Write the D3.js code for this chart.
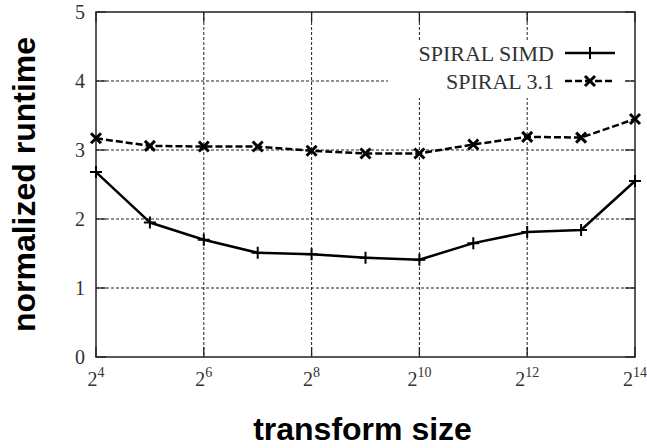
<!DOCTYPE html>
<html>
<head>
<meta charset="utf-8">
<script src="https://cdn.jsdelivr.net/npm/d3@7"></script>
<style>
  html, body { margin: 0; padding: 0; background: #fff; }
  svg { display: block; }
</style>
</head>
<body>
<svg id="chart" width="647" height="448"></svg>
<script>
// ---- data ----
const exponents = [4, 5, 6, 7, 8, 9, 10, 11, 12, 13, 14];
const spiralSimd = [2.68, 1.95, 1.70, 1.51, 1.49, 1.44, 1.41, 1.65, 1.81, 1.84, 2.55];
const spiral31   = [3.17, 3.06, 3.05, 3.05, 2.99, 2.95, 2.95, 3.08, 3.19, 3.18, 3.45];
const xTicks = [4, 6, 8, 10, 12, 14];
const yTicks = [0, 1, 2, 3, 4, 5];
const seriesNames = ["SPIRAL SIMD", "SPIRAL 3.1"];

const W = 647, H = 448;
const m = { left: 96, right: 12, top: 12, bottom: 91 };
const svg = d3.select("#chart");

const x = d3.scaleLinear().domain([4, 14]).range([m.left, W - m.right]);
const y = d3.scaleLinear().domain([0, 5]).range([H - m.bottom, m.top]);

const serif = "'Liberation Serif', 'DejaVu Serif', serif";
const sans = "'Liberation Sans', Arial, sans-serif";

// grid
const grid = svg.append("g").attr("stroke", "#222").attr("stroke-width", 1).attr("stroke-dasharray", "3,2");
grid.selectAll("line.gx").data(xTicks.slice(1, -1)).join("line")
  .attr("x1", d => x(d)).attr("x2", d => x(d))
  .attr("y1", y(5)).attr("y2", y(0));
grid.selectAll("line.gy").data(yTicks.slice(1, -1)).join("line")
  .attr("x1", x(4)).attr("x2", x(14))
  .attr("y1", d => y(d)).attr("y2", d => y(d));

// legend background (clears grid)
svg.append("rect").attr("x", 388).attr("y", 40).attr("width", 236).attr("height", 58).attr("fill", "#fff");

// ticks (inside, mirrored)
const tl = 10;
const ticks = svg.append("g").attr("stroke", "#222").attr("stroke-width", 1.3);
xTicks.forEach(d => {
  ticks.append("line").attr("x1", x(d)).attr("x2", x(d)).attr("y1", y(0)).attr("y2", y(0) - tl);
  ticks.append("line").attr("x1", x(d)).attr("x2", x(d)).attr("y1", y(5)).attr("y2", y(5) + tl);
});
yTicks.forEach(d => {
  ticks.append("line").attr("x1", x(4)).attr("x2", x(4) + tl).attr("y1", y(d)).attr("y2", y(d));
  ticks.append("line").attr("x1", x(14)).attr("x2", x(14) - tl).attr("y1", y(d)).attr("y2", y(d));
});

// border
svg.append("rect").attr("x", x(4)).attr("y", y(5))
  .attr("width", x(14) - x(4)).attr("height", y(0) - y(5))
  .attr("fill", "none").attr("stroke", "#222").attr("stroke-width", 1.5);

// y tick labels
svg.append("g").selectAll("text").data(yTicks).join("text")
  .attr("x", 85).attr("y", d => y(d) + 7)
  .attr("text-anchor", "end")
  .attr("font-family", serif).attr("font-size", 20).attr("fill", "#333")
  .text(d => d);

// x tick labels 2^n
const xl = svg.append("g").selectAll("text").data(xTicks).join("text")
  .attr("x", d => x(d)).attr("y", 386)
  .attr("text-anchor", "middle")
  .attr("font-family", serif).attr("fill", "#333");
xl.append("tspan").attr("font-size", 20).text("2");
xl.append("tspan").attr("font-size", 14).attr("dy", -9).text(d => d);

// axis titles
svg.append("text")
  .attr("x", (x(4) + x(14)) / 2 - 3).attr("y", 440)
  .attr("text-anchor", "middle")
  .attr("font-family", sans).attr("font-weight", "bold").attr("font-size", 32)
  .text("transform size");
svg.append("text")
  .attr("transform", `translate(35, ${(y(0) + y(5)) / 2}) rotate(-90)`)
  .attr("text-anchor", "middle")
  .attr("font-family", sans).attr("font-weight", "bold").attr("font-size", 32)
  .text("normalized runtime");

// series
const line = d3.line().x((d, i) => x(exponents[i])).y(d => y(d));
const plusPath = "M-6,0H6M0,-6V6";
const crossPath = "M-5,-5L5,5M-5,5L5,-5";

svg.append("path").datum(spiralSimd).attr("d", line)
  .attr("fill", "none").attr("stroke", "#000").attr("stroke-width", 2.5).attr("stroke-linejoin", "round");
svg.append("g").selectAll("path").data(spiralSimd).join("path")
  .attr("transform", (d, i) => `translate(${x(exponents[i])},${y(d)})`)
  .attr("d", plusPath).attr("stroke", "#000").attr("stroke-width", 2);

svg.append("path").datum(spiral31).attr("d", line)
  .attr("fill", "none").attr("stroke", "#000").attr("stroke-width", 2.5).attr("stroke-dasharray", "7,3");
svg.append("g").selectAll("path").data(spiral31).join("path")
  .attr("transform", (d, i) => `translate(${x(exponents[i])},${y(d)})`)
  .attr("d", crossPath).attr("stroke", "#000").attr("stroke-width", 3);

// legend
const legRows = [53, 81];
const lg = svg.append("g");
seriesNames.forEach((name, i) => {
  const yy = legRows[i];
  lg.append("text").attr("x", 554).attr("y", yy + 8)
    .attr("text-anchor", "end")
    .attr("font-family", serif).attr("font-size", 22).attr("fill", "#333")
    .text(name);
  lg.append("line").attr("x1", 565).attr("x2", 615).attr("y1", yy).attr("y2", yy)
    .attr("stroke", "#000").attr("stroke-width", 2.5)
    .attr("stroke-dasharray", i === 1 ? "7,3" : null);
  lg.append("path").attr("transform", `translate(590,${yy})`)
    .attr("d", i === 0 ? plusPath : crossPath)
    .attr("stroke", "#000").attr("stroke-width", i === 0 ? 2 : 3);
});
</script>
</body>
</html>
